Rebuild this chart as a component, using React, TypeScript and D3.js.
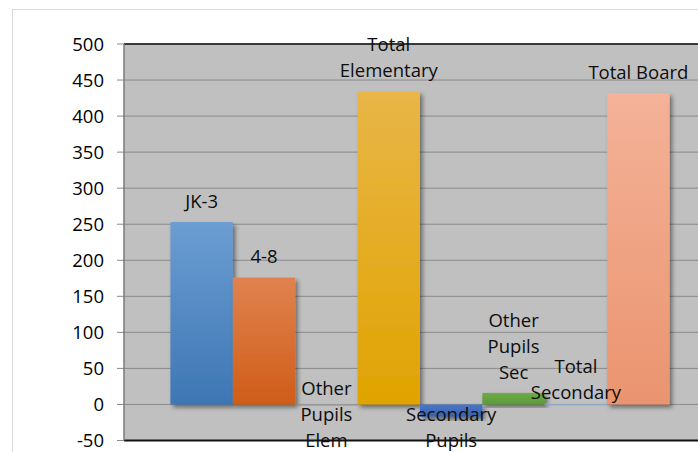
import React from "react";
import * as d3 from "d3";

const categories = [
  "JK-3",
  "4-8",
  "Other Pupils Elem",
  "Total Elementary",
  "Secondary Pupils",
  "Other Pupils Sec",
  "Total Secondary",
  "Total Board",
];
const labelLines = [
  ["JK-3"],
  ["4-8"],
  ["Other", "Pupils", "Elem"],
  ["Total", "Elementary"],
  ["Secondary", "Pupils"],
  ["Other", "Pupils", "Sec"],
  ["Total", "Secondary"],
  ["Total Board"],
];
const values = [253, 176, -1, 434, -17, 16, 1, 432];
const yTicks = [-50, 0, 50, 100, 150, 200, 250, 300, 350, 400, 450, 500];
const barTopColors = ["#6b9dd2", "#e0824f", "#a5a5a5", "#e9b647", "#4a76c6", "#6cab47", "#9dc3e6", "#f4b298"];
const barBottomColors = ["#3d77b4", "#cf5d18", "#8c8c8c", "#e0a300", "#3a62ad", "#5d9a3a", "#8ab4dc", "#ea946f"];

const W = 698;
const H = 452;
const plotLeft = 124;
const plotRight = 716;
const plotTop = 44;
const plotBottom = 440.5;
const FONT = "'Open Sans', 'Noto Sans', sans-serif";
const LINE_H = 26;
const FS = 18.5;

export default function App() {
  const x = d3
    .scaleBand<string>()
    .domain(categories)
    .range([plotLeft, plotRight])
    .paddingInner(0)
    .paddingOuter(0.744);
  const y = d3.scaleLinear().domain([-50, 500]).range([plotBottom, plotTop]);
  const y0 = y(0);

  const labels = categories.map((c, i) => {
    const v = values[i];
    const lines = labelLines[i];
    const n = lines.length;
    let first: number;
    if (v >= 0) {
      // tiny bars sit on the axis: their label hugs the bar more closely
      const gap = y0 - y(v) < 5 ? 11 : 21;
      const last = y(v) - gap;
      first = last - (n - 1) * LINE_H;
    } else {
      first = y(v) + 21;
      const last = first + (n - 1) * LINE_H;
      if (last > plotBottom) {
        first -= last - plotBottom;
      }
    }
    return { c, lines, first, cx: (x(c) as number) + x.bandwidth() / 2 };
  });

  return (
    <svg
      width={W}
      height={H}
      style={{ position: "absolute", left: 0, top: 0, background: "#fff" }}
      fontFamily={FONT}
    >
      <defs>
        {categories.map((c, i) => (
          <linearGradient key={c} id={`g${i}`} x1="0" y1="0" x2="0" y2="1">
            <stop offset="0%" stopColor={barTopColors[i]} />
            <stop offset="100%" stopColor={barBottomColors[i]} />
          </linearGradient>
        ))}
        <filter id="shadow" x="-20%" y="-20%" width="150%" height="150%">
          <feDropShadow dx="2.5" dy="3" stdDeviation="2.2" floodColor="#000" floodOpacity="0.45" />
        </filter>
      </defs>
      <rect x={12.5} y={9.5} width={W} height={H} fill="#fff" stroke="#d9d9d9" strokeWidth={1} />
      <rect x={plotLeft} y={plotTop} width={plotRight - plotLeft} height={plotBottom - plotTop} fill="#c0c0c0" />
      {yTicks.map((t) => (
        <g key={t}>
          <line x1={plotLeft} x2={plotRight} y1={y(t)} y2={y(t)} stroke="#8a8a8a" strokeWidth={1} />
          <line x1={117} x2={plotLeft} y1={y(t)} y2={y(t)} stroke="#8a8a8a" strokeWidth={1} />
          <text x={104} y={y(t)} dy="0.36em" textAnchor="end" fontSize={FS} fill="#000">
            {t}
          </text>
        </g>
      ))}
      {categories.map((c, i) => {
        const v = values[i];
        const top = Math.min(y(v), y0);
        const h = Math.max(Math.abs(y(v) - y0), 1);
        return (
          <rect
            key={c}
            x={x(c)}
            y={top}
            width={x.bandwidth()}
            height={h}
            fill={`url(#g${i})`}
            filter="url(#shadow)"
          />
        );
      })}
      {labels.map((l) => (
        <g key={l.c}>
          {l.lines.map((ln, j) => (
            <text
              key={j}
              x={l.cx}
              y={l.first + j * LINE_H}
              dy="0.36em"
              textAnchor="middle"
              fontSize={FS}
              fill="#0d0d0d"
            >
              {ln}
            </text>
          ))}
        </g>
      ))}
      <line x1={plotLeft} x2={plotRight} y1={plotTop} y2={plotTop} stroke="#111" strokeWidth={1.5} />
      <line x1={plotLeft} x2={plotRight} y1={plotBottom} y2={plotBottom} stroke="#111" strokeWidth={2} />
      <line x1={plotLeft} x2={plotLeft} y1={plotTop} y2={plotBottom} stroke="#7a7a7a" strokeWidth={1.5} />
    </svg>
  );
}
